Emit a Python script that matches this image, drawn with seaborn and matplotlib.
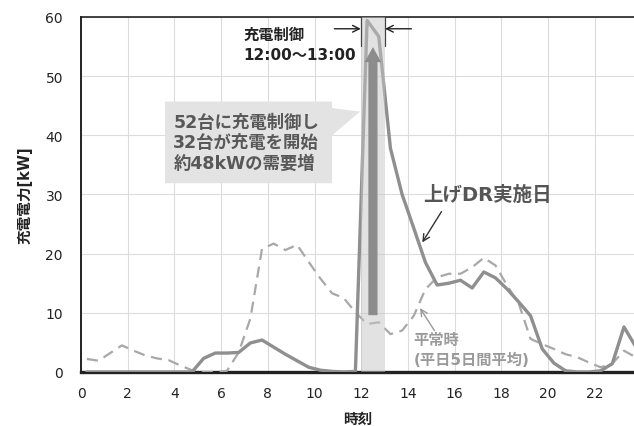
import numpy as np
import pandas as pd
import matplotlib
matplotlib.use("Agg")
import matplotlib.pyplot as plt
from matplotlib.patches import Polygon
import seaborn as sns

# Half-hour slots, plotted at the middle of each slot (0:15, 0:45, ...)
hours = [0.25 + 0.5 * i for i in range(48)]

# Charging power on the upward-DR day [kW]
dr_day = [0, 0, 0, 0, 0, 0, 0, 0, 0, 0,
          2.3, 3.2, 3.2, 3.3, 4.9, 5.4, 4.2, 3.0, 1.9, 0.8,
          0.3, 0.1, 0, 0.1, 59.4, 56.7, 37.8, 30.0, 24.3, 18.5,
          14.7, 15.0, 15.5, 14.2, 16.9, 15.9, 14.0, 11.8, 9.5, 3.9,
          1.5, 0.2, 0, 0, 0.2, 1.4, 7.6, 4.3]

# Normal weekday (average of five weekdays) [kW]
normal = [2.2, 1.9, 3.2, 4.5, 3.6, 2.8, 2.3, 2.0, 1.1, 0.3,
          0, 0, 0.2, 3.3, 9.0, 20.8, 21.7, 20.6, 21.5, 18.6,
          15.8, 13.3, 12.5, 10.1, 8.1, 8.4, 6.4, 7.0, 9.5, 14.0,
          16.0, 16.6, 16.6, 17.7, 19.3, 18.0, 14.6, 11.5, 5.6, 4.7,
          3.9, 3.0, 2.5, 1.6, 0.8, 1.4, 3.6, 2.5]

x_ticks = list(range(0, 24, 2))
y_ticks = list(range(0, 61, 10))

df = pd.DataFrame({"時刻": hours, "上げDR実施日": dr_day, "平常時": normal})

sns.set_theme(style="whitegrid")
plt.rcParams["font.family"] = ["DejaVu Sans", "Noto Sans CJK JP"]

fig = plt.figure(figsize=(6.34, 4.27), dpi=100)
ax = fig.add_axes([0.1278, 0.1265, 0.8722, 0.8315])

sns.lineplot(data=df, x="時刻", y="平常時", ax=ax, color="#a8a8a8",
             lw=1.6, linestyle=(0, (5, 3)), zorder=3)
sns.lineplot(data=df, x="時刻", y="上げDR実施日", ax=ax, color="#8f8f8f",
             lw=2.4, zorder=4)

# control window 12:00-13:00, laid over the lines
ax.axvspan(12, 13, color="#c6c6c6", alpha=0.5, zorder=5, lw=0)

ax.set_xlim(0, 23.68)
ax.set_ylim(0, 60)
ax.set_xticks(x_ticks)
ax.set_yticks(y_ticks)
ax.tick_params(axis="both", labelsize=10, colors="#222222", length=0)
ax.tick_params(axis="y", pad=13)
ax.tick_params(axis="x", pad=10)
ax.grid(True, color="#dcdcdc", lw=0.8)
ax.set_axisbelow(True)

ax.set_xlabel("時刻", fontsize=10.5, fontweight="bold", color="#222222", labelpad=8)
ax.set_ylabel("充電電力[kW]", fontsize=10.5, fontweight="bold", color="#222222", labelpad=9)

for side in ["left", "top", "bottom"]:
    ax.spines[side].set_visible(True)
    ax.spines[side].set_color("#222222")
ax.spines["left"].set_linewidth(1.4)
ax.spines["top"].set_linewidth(1.2)
ax.spines["bottom"].set_linewidth(2.4)
ax.spines["right"].set_visible(False)

# demand increase arrow inside the control window
ax.annotate("", xy=(12.5, 54.9), xytext=(12.5, 9.6),
            arrowprops=dict(arrowstyle="simple,head_length=0.9,head_width=1.0,tail_width=0.55",
                            fc="#8c8c8c", ec="none", shrinkA=0, shrinkB=0),
            zorder=6)

# window boundary markers
for xb in (12, 13):
    ax.plot([xb, xb], [60, 55.1], color="#444444", lw=0.9, zorder=6)
ax.annotate("", xy=(11.98, 58.0), xytext=(10.85, 58.0),
            arrowprops=dict(arrowstyle="->", color="#222222", lw=1.0,
                            shrinkA=0, shrinkB=0))
ax.annotate("", xy=(13.02, 58.0), xytext=(14.15, 58.0),
            arrowprops=dict(arrowstyle="->", color="#222222", lw=1.0,
                            shrinkA=0, shrinkB=0))
ax.text(6.95, 55.4, "充電制御\n12:00〜13:00", fontsize=11, fontweight="bold",
        color="#222222", va="center", ha="left", linespacing=1.45)

# callout box
box = Polygon([(3.6, 45.7), (10.75, 45.7), (10.75, 44.6), (11.95, 44.0),
               (10.75, 40.0), (10.75, 31.9), (3.6, 31.9)],
              closed=True, facecolor="#e3e3e3", edgecolor="none", zorder=2)
ax.add_patch(box)
ax.text(3.95, 38.8, "52台に充電制御し\n32台が充電を開始\n約48kWの需要増",
        fontsize=12.5, fontweight="bold", color="#585858", va="center",
        ha="left", linespacing=1.15, zorder=3)

# series labels
ax.text(14.65, 30.0, "上げDR実施日", fontsize=14, fontweight="bold",
        color="#555555", va="center", ha="left")
ax.annotate("", xy=(14.55, 21.5), xytext=(15.5, 27.5),
            arrowprops=dict(arrowstyle="->", color="#333333", lw=1.0))
ax.text(14.25, 3.8, "平常時\n(平日5日間平均)", fontsize=11, fontweight="bold",
        color="#9a9a9a", va="center", ha="left", linespacing=1.4)
ax.annotate("", xy=(14.45, 11.2), xytext=(15.2, 6.6),
            arrowprops=dict(arrowstyle="->", color="#9a9a9a", lw=1.0))

fig.savefig("out.png", dpi=100)
